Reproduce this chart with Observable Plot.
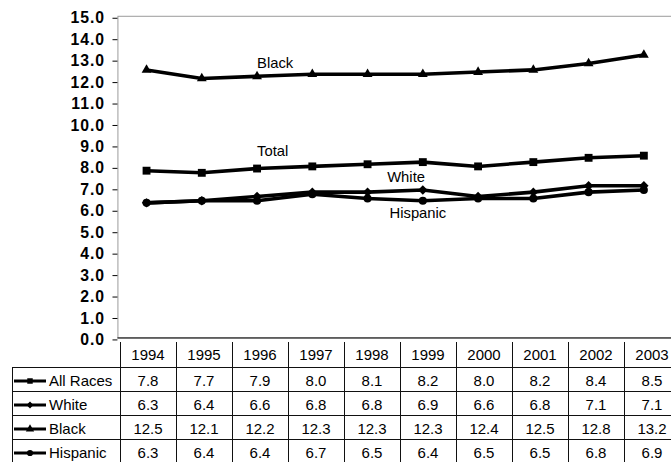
<!DOCTYPE html>
<html>
<head>
<meta charset="utf-8">
<script src="https://cdn.jsdelivr.net/npm/d3@7"></script>
<script src="https://cdn.jsdelivr.net/npm/@observablehq/plot@0.6"></script>
<style>
  body { margin: 0; background: #fff; overflow: hidden; }
  #wrap { position: relative; width: 671px; height: 462px; overflow: hidden;
          font-family: "Liberation Sans", Arial, sans-serif; }
  #wrap svg { position: absolute; left: 0; top: 0; }
  #wrap g[aria-label="y-axis tick label"] text { font-weight: bold; font-size: 16px; letter-spacing: 1px; }
</style>
</head>
<body>
<div id="wrap"></div>
<script>
// Years shown along the x axis and as the data table header
const years = [1994, 1995, 1996, 1997, 1998, 1999, 2000, 2001, 2002, 2003];

// One value per year for each group
const allRaces = [7.8, 7.7, 7.9, 8.0, 8.1, 8.2, 8.0, 8.2, 8.4, 8.5];
const white    = [6.3, 6.4, 6.6, 6.8, 6.8, 6.9, 6.6, 6.8, 7.1, 7.1];
const black    = [12.5, 12.1, 12.2, 12.3, 12.3, 12.3, 12.4, 12.5, 12.8, 13.2];
const hispanic = [6.3, 6.4, 6.4, 6.7, 6.5, 6.4, 6.5, 6.5, 6.8, 6.9];

const seriesNames = ["All Races", "White", "Black", "Hispanic"];
const seriesValues = [allRaces, white, black, hispanic];
const seriesSymbols = ["square", "diamond2", "triangle", "circle"];

// y axis tick values, 0.0 to 15.0
const yTicks = [0, 1, 2, 3, 4, 5, 6, 7, 8, 9, 10, 11, 12, 13, 14, 15];

const fmt = d3.format(".1f");

const series = seriesNames.map((name, k) => ({
  name,
  symbol: seriesSymbols[k],
  points: years.map((year, i) => ({year, value: seriesValues[k][i], series: name}))
}));

const markerR = {"square": 4.5, "diamond2": 4.3, "triangle": 3.7, "circle": 4.1};

// Text tag placed next to one point of a series
function tag(text, k, i, opts) {
  return Plot.text([series[k].points[i]], {
    x: "year", y: "value", text: () => text,
    fontSize: 15, fill: "#000", lineAnchor: "bottom", ...opts
  });
}

const chart = Plot.plot({
  width: 680,
  height: 343,
  marginLeft: 119,
  marginRight: 0,
  marginTop: 16,
  marginBottom: 1,
  style: {fontFamily: "Liberation Sans, Arial, sans-serif", background: "transparent", color: "#000", overflow: "visible"},
  x: {type: "point", domain: years, padding: 0.5, axis: null},
  y: {domain: [0, 15], axis: null},
  marks: [
    Plot.frame({stroke: "#9a9a9a"}),
    Plot.axisY(yTicks, {
      tickSize: 5, tickPadding: 8, tickFormat: fmt, label: null, line: true,
      fontSize: 16, fontWeight: "bold", dy: 2
    }),
    Plot.ruleY([0], {stroke: "#000"}),
    ...series.map(s => Plot.line(s.points, {
      x: "year", y: "value", stroke: "#000", strokeWidth: 3.6, strokeLinejoin: "round"
    })),
    ...series.map(s => Plot.dot(s.points, {
      x: "year", y: "value", symbol: s.symbol, r: markerR[s.symbol], fill: "#000", stroke: "none"
    })),
    tag("Black", 2, 2, {textAnchor: "start", dy: -8}),
    tag("Total", 0, 2, {textAnchor: "start", dy: -12.5}),
    tag("White", 1, 5, {textAnchor: "middle", dx: -17, dy: -8}),
    tag("Hispanic", 3, 5, {textAnchor: "middle", dx: -5, dy: 18})
  ]
});

const wrap = document.getElementById("wrap");
wrap.appendChild(chart);

// Data table under the plot, aligned on the chart's own x and y scales
const xs = chart.scale("x");
const ys = chart.scale("y");
const step = xs.apply(years[1]) - xs.apply(years[0]);
const tableLeft = 12;
const colLeft = xs.apply(years[0]) - step / 2;
const tableRight = xs.apply(years[years.length - 1]) + step / 2;
const tableTop = ys.apply(0);
const rowH = 24;
const headerBottom = tableTop + 25;

const svg = d3.select(wrap).append("svg")
  .attr("width", 680).attr("height", 462)
  .style("font-family", "Liberation Sans, Arial, sans-serif");

const crisp = v => Math.floor(v) + 0.5;
const lines = svg.append("g").attr("stroke", "#111").attr("stroke-width", 1).attr("shape-rendering", "crispEdges");
const tableBottom = headerBottom + rowH * seriesNames.length;

// horizontal rules
for (let r = 0; r <= seriesNames.length; r++) {
  const y = crisp(headerBottom + r * rowH);
  lines.append("line").attr("x1", tableLeft).attr("x2", tableRight).attr("y1", y).attr("y2", y);
}
// vertical rules
[colLeft, ...years.map(y => xs.apply(y) + step / 2)].forEach(x => {
  lines.append("line").attr("x1", crisp(x)).attr("x2", crisp(x)).attr("y1", tableTop).attr("y2", tableBottom);
});
lines.append("line").attr("x1", crisp(tableLeft)).attr("x2", crisp(tableLeft))
  .attr("y1", headerBottom).attr("y2", tableBottom);

// header years
svg.append("g").attr("font-size", 15).attr("text-anchor", "middle")
  .selectAll("text").data(years).join("text")
  .attr("x", d => xs.apply(d)).attr("y", tableTop + 18).text(d => d);

// value rows and legend keys
series.forEach((s, k) => {
  const base = headerBottom + k * rowH + 19;
  const g = svg.append("g").attr("font-size", 15);
  g.selectAll("text.v").data(s.points).join("text").attr("class", "v")
    .attr("text-anchor", "middle")
    .attr("x", d => xs.apply(d.year)).attr("y", base).text(d => fmt(d.value));
  const ky = base - 5;
  g.append("line").attr("x1", 14).attr("x2", 46).attr("y1", ky).attr("y2", ky)
    .attr("stroke", "#000").attr("stroke-width", 3);
  const symType = {square: d3.symbolSquare, diamond2: d3.symbolDiamond2, triangle: d3.symbolTriangle, circle: d3.symbolCircle}[s.symbol];
  g.append("path").attr("transform", `translate(30,${ky})`)
    .attr("d", d3.symbol(symType, 30)()).attr("fill", "#000");
  g.append("text").attr("x", 49).attr("y", base).text(s.name);
});
</script>
</body>
</html>
